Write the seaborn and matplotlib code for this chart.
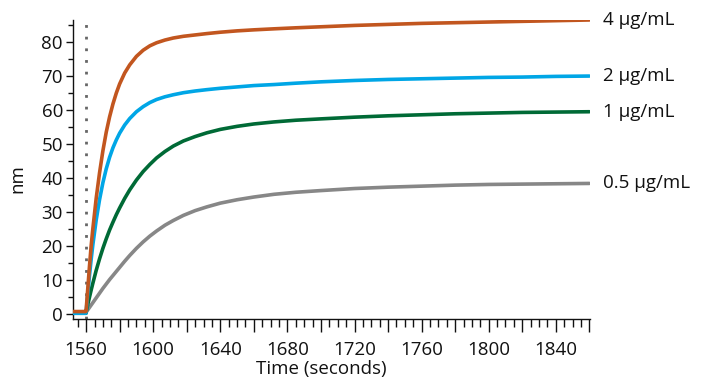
import matplotlib
matplotlib.use("Agg")
import matplotlib.pyplot as plt
from matplotlib.ticker import MultipleLocator, FuncFormatter
import pandas as pd
import seaborn as sns

# Sampling times (s) shared by all association traces
time_s = [1552, 1559.9, 1560, 1561, 1562, 1563, 1564, 1566, 1568, 1570, 1572,
          1574, 1576, 1578, 1580, 1583, 1586, 1590, 1594, 1598, 1602, 1607,
          1612, 1618, 1625, 1632, 1640, 1650, 1660, 1672, 1685, 1700, 1720,
          1740, 1760, 1780, 1800, 1820, 1840, 1860]

# Binding response (nm) for each concentration
conc_05 = [0.2, 0.2, 0.5, 1.2, 1.9, 2.6, 3.3, 4.7, 6.1, 7.5, 8.8,
           10.1, 11.3, 12.5, 13.7, 15.5, 17.2, 19.3, 21.2, 22.9, 24.4, 26.1,
           27.5, 29.0, 30.4, 31.5, 32.6, 33.6, 34.4, 35.2, 35.8, 36.3, 36.9,
           37.3, 37.6, 37.9, 38.1, 38.2, 38.3, 38.4]
conc_1 = [0.2, 0.2, 0.5, 2.8, 4.9, 7.0, 9.0, 12.8, 16.2, 19.3, 22.1,
          24.7, 27.0, 29.2, 31.2, 34.0, 36.5, 39.4, 41.9, 44.0, 45.9, 47.8,
          49.4, 50.9, 52.2, 53.3, 54.3, 55.2, 55.9, 56.5, 57.0, 57.4, 57.9,
          58.3, 58.6, 58.9, 59.1, 59.3, 59.4, 59.5]
conc_2 = [0.2, 0.2, 0.5, 6.0, 11.3, 16.0, 20.3, 27.6, 33.6, 38.6, 42.7,
          46.1, 48.9, 51.2, 53.2, 55.6, 57.5, 59.5, 61.0, 62.2, 63.1, 63.9,
          64.5, 65.1, 65.6, 66.0, 66.4, 66.8, 67.2, 67.5, 67.9, 68.3, 68.7,
          69.0, 69.2, 69.4, 69.6, 69.7, 69.9, 70.0]
conc_4 = [0.7, 0.7, 1.0, 7.5, 14.0, 20.0, 25.0, 34.0, 41.5, 48.0, 53.5,
          58.0, 61.8, 65.0, 67.7, 70.9, 73.3, 75.8, 77.6, 78.9, 79.8, 80.6,
          81.2, 81.7, 82.1, 82.5, 82.9, 83.3, 83.6, 83.9, 84.2, 84.5, 84.9,
          85.2, 85.5, 85.7, 85.9, 86.1, 86.3, 86.5]

series_labels = ["0.5 µg/mL", "1 µg/mL", "2 µg/mL", "4 µg/mL"]
series_values = [conc_05, conc_1, conc_2, conc_4]
series_colors = ["#878787", "#006A36", "#00A6E6", "#C2561F"]

injection_time = 1560

frames = []
for lab, vals in zip(series_labels, series_values):
    frames.append(pd.DataFrame({"Time": time_s, "nm": vals, "Sample": lab}))
df = pd.concat(frames, ignore_index=True)

sns.set_theme(style="ticks")
plt.rcParams["font.family"] = ["Open Sans", "DejaVu Sans"]

fig = plt.figure(figsize=(7.01, 3.80), dpi=100)
ax = fig.add_axes([0.1037, 0.1605, 0.7380, 0.7869])

ax.axvline(injection_time, color="#666666", lw=2.0, ls=(0, (1, 3.2)), zorder=1)

sns.lineplot(data=df, x="Time", y="nm", hue="Sample", hue_order=series_labels,
             palette=dict(zip(series_labels, series_colors)), linewidth=2.6,
             legend=False, ax=ax, zorder=3)

ax.set_xlim(1552, 1860.4)
ax.set_ylim(-1.5, 86.5)

for spine in ["top", "right"]:
    ax.spines[spine].set_visible(False)
for spine in ["left", "bottom"]:
    ax.spines[spine].set_color("#111111")
    ax.spines[spine].set_linewidth(1.0)

ax.xaxis.set_major_locator(MultipleLocator(20))
ax.xaxis.set_minor_locator(MultipleLocator(5))
ax.xaxis.set_major_formatter(FuncFormatter(lambda v, p: f"{v:.0f}" if round(v) % 40 == 0 else ""))
ax.yaxis.set_major_locator(MultipleLocator(10))
ax.yaxis.set_minor_locator(MultipleLocator(5))

ax.tick_params(axis="x", which="major", length=9.5, width=1.0, color="#111111",
               labelsize=13.5, pad=6, labelcolor="#111111")
ax.tick_params(axis="x", which="minor", length=5.8, width=1.0, color="#111111")
ax.tick_params(axis="y", which="major", length=5, width=1.0, color="#111111",
               labelsize=13.5, pad=2, labelcolor="#111111")
ax.tick_params(axis="y", which="minor", length=3.4, width=1.0, color="#111111")

ax.set_xlabel("Time (seconds)", fontsize=13.5, color="#111111", va="center")
ax.set_ylabel("nm", fontsize=13.5, color="#111111")
ax.xaxis.set_label_coords(0.48, -0.168)
ax.yaxis.set_label_coords(-0.09, 0.47)

for lab, vals, col in zip(series_labels, series_values, series_colors):
    ax.annotate(lab, xy=(time_s[-1], vals[-1]), xytext=(10, 0),
                textcoords="offset points", va="center", ha="left",
                fontsize=13.5, color="#111111", annotation_clip=False)

fig.savefig("out.png", dpi=100)
